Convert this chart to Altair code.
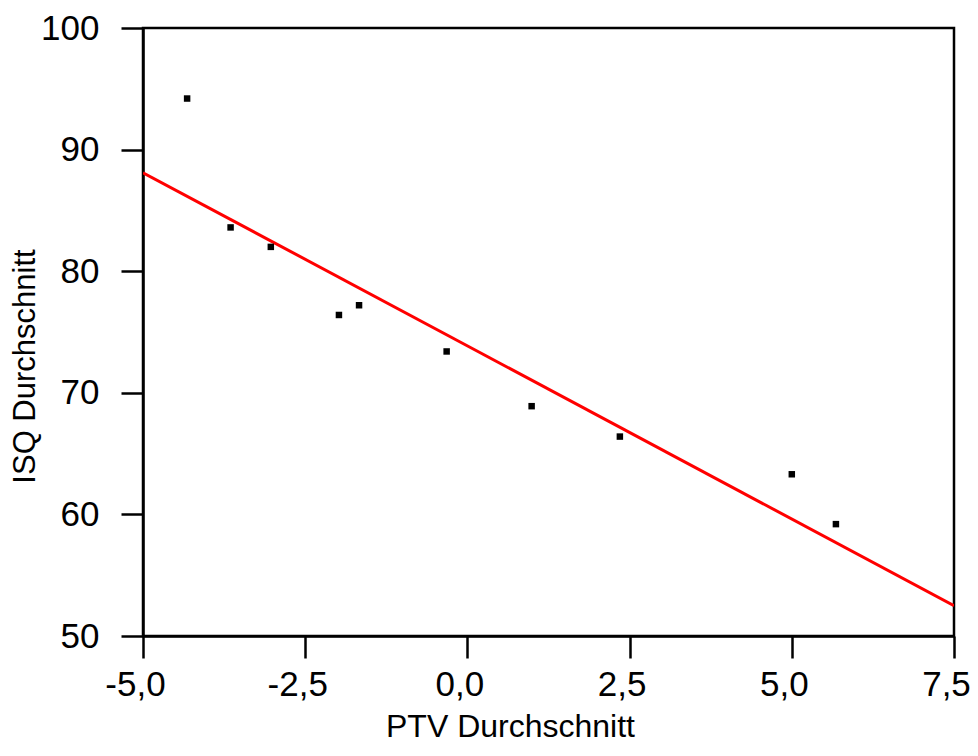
import altair as alt
import pandas as pd

ptv = [-4.32, -3.65, -3.03, -1.98, -1.67, -0.32, 0.99, 2.35, 5.00, 5.68]
isq = [94.2, 83.6, 82.0, 76.4, 77.2, 73.4, 68.9, 66.4, 63.3, 59.2]

fit_x = [-5.0, 7.5]
fit_y = [88.1, 52.5]

x_ticks = [-5.0, -2.5, 0.0, 2.5, 5.0, 7.5]
y_ticks = [50, 60, 70, 80, 90, 100]

pts = pd.DataFrame({"x": ptv, "y": isq})
fit = pd.DataFrame({"x": fit_x, "y": fit_y})

FONT = "Liberation Sans"
FS = 35

xscale = alt.Scale(domain=[-5, 7.5], nice=False, zero=False)
yscale = alt.Scale(domain=[50, 100], nice=False, zero=False)

xaxis = alt.Axis(
    title="PTV Durchschnitt", values=x_ticks,
    labelExpr="(datum.value < 0 ? '-' : '') + replace(format(abs(datum.value), '.1f'), '.', ',')",
    grid=False, domainColor="black", domainWidth=2.5,
    tickColor="black", tickWidth=2.5, tickSize=22,
    labelFont=FONT, labelFontSize=FS, labelColor="black", labelPadding=9,
    labelOffset=-8,
    labelFlush=False, labelOverlap=False,
    titleFont=FONT, titleFontSize=32, titleFontWeight="normal", titleColor="black",
    titleX=367, titleY=90, titleAlign="center", titleBaseline="middle",
)
yaxis = alt.Axis(
    title="ISQ Durchschnitt", values=y_ticks, format="d",
    grid=False, domainColor="black", domainWidth=2.5,
    tickColor="black", tickWidth=2.5, tickSize=22,
    labelFont=FONT, labelFontSize=FS, labelColor="black", labelPadding=22,
    labelFlush=False, labelOverlap=False,
    titleFont=FONT, titleFontSize=31, titleFontWeight="normal", titleColor="black",
    titleX=-109, titleY=338, titleAlign="center", titleBaseline="alphabetic", titleAngle=270,
)

points = alt.Chart(pts).mark_square(size=42, color="black", opacity=1, filled=True).encode(
    x=alt.X("x:Q", scale=xscale, axis=xaxis),
    y=alt.Y("y:Q", scale=yscale, axis=yaxis),
)

line = alt.Chart(fit).mark_line(color="#ff0000", strokeWidth=3, clip=True).encode(
    x=alt.X("x:Q", scale=xscale),
    y=alt.Y("y:Q", scale=yscale),
)

chart = alt.layer(line, points).properties(
    width=811, height=608,
    padding={"left": 135, "top": 20, "right": 16, "bottom": 112},
    autosize=alt.AutoSizeParams(type="none"),
    background="white",
).configure_view(stroke="black", strokeWidth=2.5)

chart.save("out.html", embed_options={"renderer": "svg", "actions": False})
